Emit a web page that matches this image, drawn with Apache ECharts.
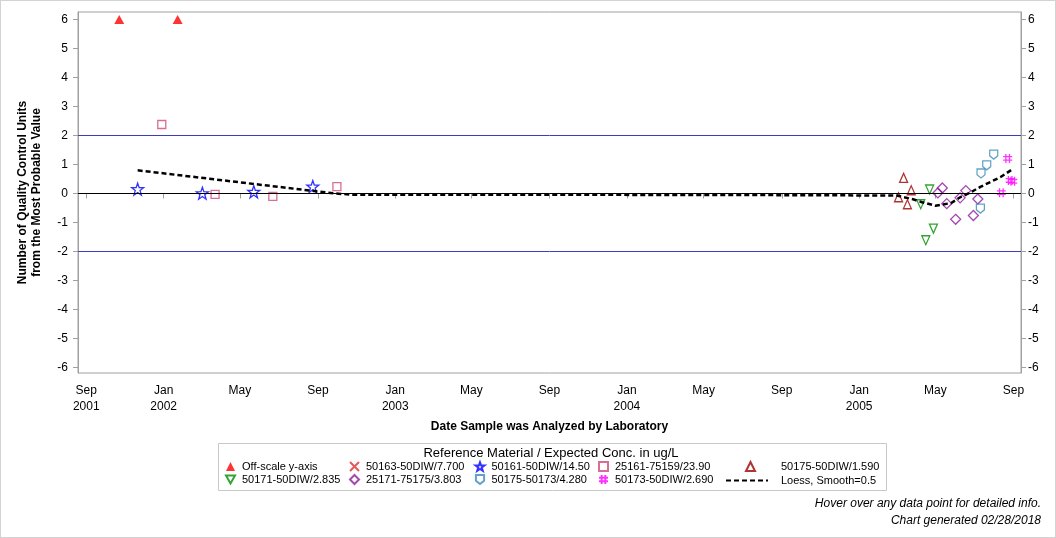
<!DOCTYPE html>
<html lang="en">

<head>
    <meta charset="UTF-8">
    <title>qc chart</title>
    <script src="https://cdn.jsdelivr.net/npm/echarts@6/dist/echarts.min.js"></script>
    <style>
        html, body { margin: 0; padding: 0; background: #fff; }
        #qc_chart {
            position: absolute; left: 0px; top: 0px;
            width: 1054px; height: 536px;
            border: 1px solid #d3d3d3;
        }
    </style>
</head>

<body>
    <div id="qc_chart"></div>
    <script>
        // x axis ticks (dates) and their labels
        var tickDates = ['2001-09-01', '2002-01-01', '2002-05-01', '2002-09-01', '2003-01-01', '2003-05-01', '2003-09-01',
            '2004-01-01', '2004-05-01', '2004-09-01', '2005-01-01', '2005-05-01', '2005-09-01'];
        var tickLabels = ['Sep\n2001', 'Jan\n2002', 'May', 'Sep', 'Jan\n2003', 'May', 'Sep',
            'Jan\n2004', 'May', 'Sep', 'Jan\n2005', 'May', 'Sep'];
        var yTicks = [-6, -5, -4, -3, -2, -1, 0, 1, 2, 3, 4, 5, 6];
        var limitLines = [2, -2];

        // points: [date, value]
        var offScale = [['2001-10-23', 6], ['2002-01-23', 6]];
        var s50163 = [];
        var s50161 = [['2001-11-21', 0.15], ['2002-03-03', 0.01], ['2002-05-23', 0.06], ['2002-08-24', 0.24]];
        var s25161 = [['2001-12-29', 2.38], ['2002-03-23', -0.03], ['2002-06-22', -0.10], ['2002-10-01', 0.24]];
        var s50175a = [['2005-03-04', -0.13], ['2005-03-12', 0.54], ['2005-03-18', -0.37], ['2005-03-24', 0.11]];
        var s50171 = [['2005-04-08', -0.37], ['2005-04-16', -1.61], ['2005-04-22', 0.14], ['2005-04-28', -1.21]];
        var s25171 = [['2005-05-05', 0.02], ['2005-05-12', 0.19], ['2005-05-19', -0.35], ['2005-06-02', -0.89],
            ['2005-06-09', -0.15], ['2005-06-18', 0.10], ['2005-06-30', -0.76], ['2005-07-07', -0.19]];
        var s50175b = [['2005-07-11', -0.52], ['2005-07-12', 0.69], ['2005-07-21', 0.97], ['2005-08-01', 1.34]];
        var s50173 = [['2005-08-13', 0.03], ['2005-08-23', 1.21], ['2005-08-27', 0.45], ['2005-08-31', 0.42]];
        var loess = [['2001-11-21', 0.80], ['2002-09-28', 0.00], ['2002-10-25', -0.04], ['2004-06-01', -0.05],
            ['2005-03-01', -0.07], ['2005-03-27', -0.20], ['2005-04-10', -0.30], ['2005-05-01', -0.42],
            ['2005-05-26', -0.33], ['2005-06-09', -0.13], ['2005-06-25', 0.03], ['2005-07-11', 0.23],
            ['2005-07-27', 0.40], ['2005-08-12', 0.57], ['2005-08-30', 0.83]];

        function ts(s) {
            var p = s.split('-');
            return new Date(+p[0], p[1] - 1, +p[2]).getTime();
        }
        function pts(arr) {
            return arr.map(function (d) { return [ts(d[0]), d[1]]; });
        }

        var STAR = 'path://M0,-10L2.35,-3.24L9.51,-3.09L3.8,1.24L5.88,8.09L0,4L-5.88,8.09L-3.8,1.24L-9.51,-3.09L-2.35,-3.24Z';
        var SHIELD = 'path://M0,0L10,0L10,7L5,11L0,7Z';
        var HASH = 'path://M3,0L3,10M7,0L7,10M0,3L10,3M0,7L10,7';
        var CROSS = 'path://M0,0L10,10M10,0L0,10';
        var DOWN_TRI = 'path://M0,0L10,0L5,9Z';
        var DASHES = 'path://M0,0h5v2h-5zM8,0h5v2h-5zM16,0h5v2h-5zM24,0h5v2h-5zM32,0h5v2h-5zM40,0h2v2h-2z';

        function openItem(color) {
            return { color: 'rgba(255,255,255,0)', borderColor: color, borderWidth: 1.3 };
        }

        var tickTs = tickDates.map(ts);
        var font = 'Liberation Sans, Arial, sans-serif';
        var legendText = { fontSize: 11, color: '#000', padding: [0, 0, 0, 2] };

        function legendCol(left, names, extra) {
            var l = {
                left: left, top: 460, padding: 0, orient: 'vertical', itemWidth: 9, itemHeight: 9, itemGap: 2,
                textStyle: legendText, data: names
            };
            return Object.assign(l, extra || {});
        }

        var myChart = echarts.init(document.getElementById('qc_chart'));
        var option = {
            animation: false,
            textStyle: { fontFamily: font },
            grid: {
                left: 77, right: 34, top: 11, bottom: 164,
                show: true, borderColor: '#a0a0a0', borderWidth: 1
            },
            xAxis: {
                type: 'value',
                min: ts('2001-08-19'),
                max: ts('2005-09-13'),
                name: 'Date Sample was Analyzed by Laboratory',
                nameLocation: 'middle',
                nameGap: 48,
                nameTextStyle: { fontWeight: 'bold', fontSize: 12, color: '#000' },
                axisLine: { show: true, lineStyle: { color: '#a0a0a0' } },
                axisTick: { customValues: tickTs, length: 5, lineStyle: { color: '#a0a0a0' } },
                axisLabel: {
                    customValues: tickTs,
                    fontSize: 12, color: '#000', lineHeight: 16, margin: 10,
                    formatter: function (v) {
                        var i = tickTs.indexOf(v);
                        return i >= 0 ? tickLabels[i] : '';
                    }
                },
                splitLine: { show: false }
            },
            yAxis: [{
                type: 'value',
                min: -6.19, max: 6.259,
                position: 'left',
                name: 'Number of Quality Control Units\nfrom the Most Probable Value',
                nameLocation: 'middle',
                nameGap: 34,
                nameTextStyle: { fontWeight: 'bold', fontSize: 12, color: '#000', lineHeight: 14 },
                axisLine: { show: true, lineStyle: { color: '#a0a0a0' } },
                axisTick: { customValues: yTicks, length: 5, lineStyle: { color: '#a0a0a0' } },
                axisLabel: { customValues: yTicks, fontSize: 12, color: '#000', margin: 10 },
                splitLine: { show: false }
            }, {
                type: 'value',
                min: -6.19, max: 6.259,
                position: 'right',
                axisLine: { show: true, lineStyle: { color: '#a0a0a0' } },
                axisTick: { customValues: yTicks, length: 5, lineStyle: { color: '#a0a0a0' } },
                axisLabel: { customValues: yTicks, fontSize: 12, color: '#000', margin: 7 },
                splitLine: { show: false }
            }],
            legend: [
                legendCol(224, ['Off-scale y-axis', { name: '50171-50DIW/2.835', icon: DOWN_TRI }]),
                legendCol(348, ['50163-50DIW/7.700', '25171-75175/3.803']),
                legendCol(473.5, ['50161-50DIW/14.50', '50175-50173/4.280']),
                legendCol(597, ['25161-75159/23.90', '50173-50DIW/2.690']),
                legendCol(744, ['50175-50DIW/1.590'], { textStyle: Object.assign({}, legendText, { padding: [0, 0, 0, 21] }) }),
                legendCol(725, [{ name: 'Loess, Smooth=0.5', icon: DASHES }], {
                    top: 474, itemWidth: 42, itemHeight: 9,
                    textStyle: Object.assign({}, legendText, { padding: [0, 0, 0, 8] })
                })
            ],
            graphic: [{
                type: 'rect', silent: true,
                shape: { x: 217.5, y: 442.5, width: 668, height: 47 },
                style: { fill: 'none', stroke: '#c8c8c8', lineWidth: 1 }
            }, {
                type: 'text', x: 550, y: 452, silent: true,
                style: {
                    text: 'Reference Material / Expected Conc. in ug/L', align: 'center', verticalAlign: 'middle',
                    font: '13px ' + font, fill: '#000'
                }
            }, {
                type: 'text', x: 1040, y: 503, silent: true,
                style: {
                    text: 'Hover over any data point for detailed info.', align: 'right', verticalAlign: 'middle',
                    font: 'italic 12px ' + font, fill: '#000'
                }
            }, {
                type: 'text', x: 1040, y: 520, silent: true,
                style: {
                    text: 'Chart generated 02/28/2018', align: 'right', verticalAlign: 'middle',
                    font: 'italic 12px ' + font, fill: '#000'
                }
            }],
            series: [{
                name: 'Loess, Smooth=0.5',
                type: 'line',
                data: pts(loess),
                symbol: 'none',
                z: 3,
                lineStyle: { color: '#000', width: 2.5, type: [5, 3] },
                itemStyle: { color: '#000' },
                markLine: {
                    silent: true, symbol: 'none', label: { show: false },
                    lineStyle: { color: '#000', width: 1, type: 'solid' },
                    data: [{ yAxis: 0 }]
                }
            }, {
                name: 'Off-scale y-axis', type: 'scatter', data: pts(offScale),
                symbol: 'triangle', symbolSize: [10, 9], itemStyle: { color: '#ff0000' },
                markLine: {
                    silent: true, symbol: 'none', label: { show: false },
                    lineStyle: { color: '#3c3cc0', width: 1, type: 'solid', opacity: 1 },
                    data: limitLines.map(function (v) { return { yAxis: v }; })
                }
            }, {
                name: '50163-50DIW/7.700', type: 'scatter', data: pts(s50163),
                symbol: CROSS, symbolSize: 8, itemStyle: openItem('#e03030')
            }, {
                name: '50161-50DIW/14.50', type: 'scatter', data: pts(s50161),
                symbol: STAR, symbolSize: 12, itemStyle: openItem('#0000ff')
            }, {
                name: '25161-75159/23.90', type: 'scatter', data: pts(s25161),
                symbol: 'rect', symbolSize: 8, itemStyle: openItem('#d0487c')
            }, {
                name: '50175-50DIW/1.590', type: 'scatter', data: pts(s50175a),
                symbol: 'triangle', symbolSize: [8, 9], itemStyle: openItem('#9b0000')
            }, {
                name: '50171-50DIW/2.835', type: 'scatter', data: pts(s50171),
                symbol: 'triangle', symbolRotate: 180, symbolSize: [8, 9], itemStyle: openItem('#008c00')
            }, {
                name: '25171-75175/3.803', type: 'scatter', data: pts(s25171),
                symbol: 'diamond', symbolSize: 10, itemStyle: openItem('#8e1a9e')
            }, {
                name: '50175-50173/4.280', type: 'scatter', data: pts(s50175b),
                symbol: SHIELD, symbolSize: [8, 9], itemStyle: openItem('#3a8ab8')
            }, {
                name: '50173-50DIW/2.690', type: 'scatter', data: pts(s50173),
                symbol: HASH, symbolSize: 9, itemStyle: openItem('#ff00ff')
            }]
        };
        myChart.setOption(option);
    </script>
</body>

</html>
